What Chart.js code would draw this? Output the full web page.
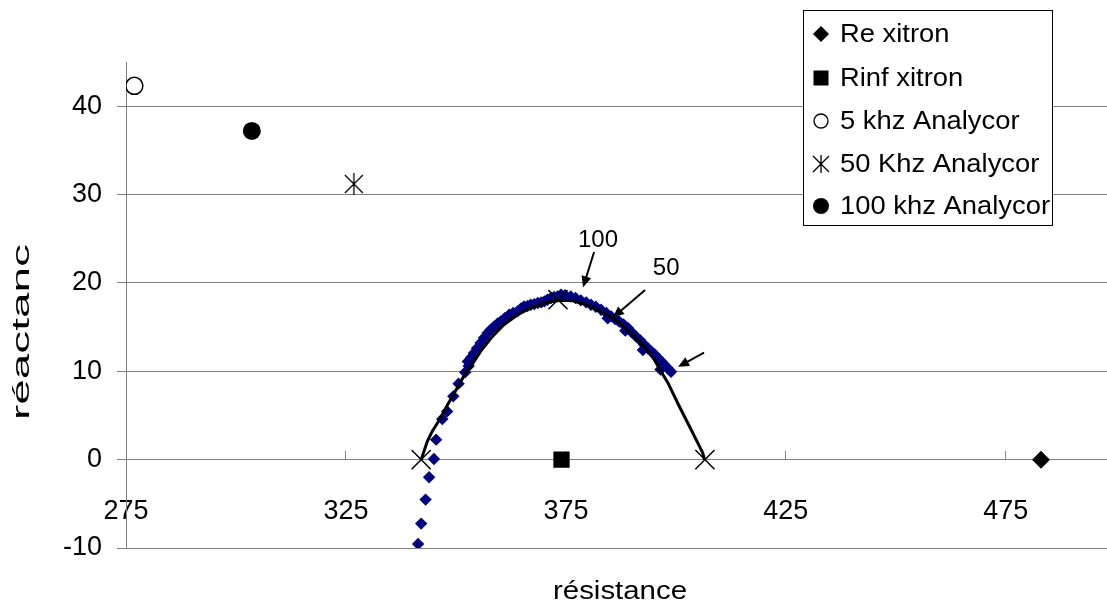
<!DOCTYPE html>
<html><head><meta charset="utf-8">
<script src="https://cdn.jsdelivr.net/npm/chart.js@4/dist/chart.umd.min.js"></script>
<style>html,body{margin:0;padding:0;background:#fff}#wrap{width:1107px;height:601px}</style>
</head><body><div id="wrap"><canvas id="c" width="1107" height="601"></canvas></div>
<script>
// ---- data ----
const xTicks = [275, 325, 375, 425, 475];
const yTicks = [-10, 0, 10, 20, 30, 40];

const reXitronX = [483];      const reXitronY = [0];
const rinfXitronX = [374];    const rinfXitronY = [0];
const khz5X = [276.9];        const khz5Y = [42.3];
const khz50X = [326.8];       const khz50Y = [31.2];
const khz100X = [303.6];      const khz100Y = [37.2];
const crossX = [342.1, 373.2, 406.6];
const crossY = [0, 18.1, 0];

const measX = [341.4,342.1,343.1,343.9,345.0,345.5,346.9,348.0,349.4,350.6,352.1,352.7,354.1,355.6,357.2,358.7,360.2,362.1,364.0,365.5,367.0,368.6,370.1,371.6,373.1,373.9,376.1,378.4,380.7,383.0,385.3,387.1,389.1,390.9,392.8,394.4,395.9,397.4,398.9,
  352.9,353.5,354.8,356.4,357.9,359.5,361.1,363.0,364.8,366.3,367.8,369.4,370.8,372.3,374.8,377.2,379.6,381.8,384.2,386.2,388.1,390.0,391.9,393.6,395.2,396.7,398.2,384.5,388.5,392.5,396.5];
const measY = [-9.54,-7.24,-4.52,-2.0,0.08,2.26,4.6,5.46,7.16,8.6,9.88,11.12,12.07,13.2,14.33,15.08,15.64,16.4,16.78,17.34,17.53,17.72,17.91,18.29,18.47,18.67,18.47,18.02,17.53,16.97,16.21,15.64,14.9,13.95,13.0,12.25,11.5,10.75,9.95,
  10.6,11.6,12.6,13.8,14.7,15.4,16.0,16.6,17.1,17.4,17.6,17.8,18.1,18.4,18.6,18.3,17.8,17.3,16.6,15.9,15.3,14.4,13.5,12.6,11.9,11.1,10.3,16.0,14.6,12.4,10.2];

const curveX = [342.1,343.5,344.6,345.8,346.9,348.1,349.2,350.7,352.2,353.4,355.6,358.3,360.9,364.0,367.0,370.1,373.1,376.1,379.9,383.7,386.8,389.8,392.8,395.1,396.6,398.2,400.4,402.7,404.6,406.1,406.5];
const curveY = [0.0,2.07,3.2,4.15,5.09,6.22,7.16,8.48,9.81,10.55,12.25,13.95,15.27,16.4,17.16,17.73,18.02,18.02,17.53,16.59,15.64,14.33,12.82,11.31,9.99,8.68,6.41,4.15,2.26,0.76,0.0];

const legendLabels = ['Re xitron', 'Rinf xitron', '5 khz Analycor', '50 Khz Analycor', '100 khz Analycor'];
const xTitle = 'résistance';
const yTitle = 'réactanc';
// annotations: [label, textX, textY, arrowFromX, arrowFromY, arrowToX, arrowToY]
const notes = [
  ['100', 382.3, 24.8, 381.4, 23.5, 378.9, 19.5],
  ['50', 397.8, 21.7, 393.0, 19.2, 385.7, 16.1],
  ['', 0, 0, 406.4, 12.1, 400.5, 10.5]
];

const pts = (xs, ys) => xs.map((x, i) => ({x, y: ys[i]}));
const FONT = "'Liberation Sans', Arial, sans-serif";

const asterisk = (() => {
  const c = document.createElement('canvas'); c.width = 22; c.height = 22;
  const g = c.getContext('2d'); g.strokeStyle = '#000'; g.lineWidth = 1.3;
  g.beginPath(); g.moveTo(2,2); g.lineTo(20,20); g.moveTo(20,2); g.lineTo(2,20);
  g.moveTo(11,0); g.lineTo(11,22); g.stroke(); return c;
})();

function stretchText(ctx, text, cx, cy, targetW, rot, align) {
  ctx.save();
  ctx.translate(cx, cy);
  if (rot) ctx.rotate(rot);
  const w = ctx.measureText(text).width;
  const s = targetW ? targetW / w : 1;
  ctx.scale(s, 1);
  ctx.textAlign = align || 'center'; ctx.textBaseline = 'middle';
  ctx.fillText(text, 0, 0);
  ctx.restore();
}

const extras = {
  id: 'extras',
  beforeDraw(chart) {
    const ctx = chart.ctx; ctx.save(); ctx.fillStyle = '#fff';
    ctx.fillRect(0, 0, chart.width, chart.height); ctx.restore();
  },
  afterDraw(chart) {
    const ctx = chart.ctx, xs = chart.scales.x, ys = chart.scales.y;
    ctx.save();
    ctx.fillStyle = '#000'; ctx.strokeStyle = '#000';
    // axis titles
    ctx.font = '26px ' + FONT;
    stretchText(ctx, xTitle, 620, 592, 134, 0);
    ctx.font = '24px ' + FONT;
    stretchText(ctx, yTitle, 22, 332, 176, -Math.PI / 2);
    // annotations
    ctx.font = '24px ' + FONT;
    notes.forEach(n => {
      if (n[0]) stretchText(ctx, n[0], xs.getPixelForValue(n[1]), ys.getPixelForValue(n[2]), 0, 0);
      const x1 = xs.getPixelForValue(n[3]), y1 = ys.getPixelForValue(n[4]);
      const x2 = xs.getPixelForValue(n[5]), y2 = ys.getPixelForValue(n[6]);
      const a = Math.atan2(y2 - y1, x2 - x1), L = 11, W = 5;
      ctx.lineWidth = 2;
      ctx.beginPath(); ctx.moveTo(x1, y1);
      ctx.lineTo(x2 - Math.cos(a) * L * 0.8, y2 - Math.sin(a) * L * 0.8); ctx.stroke();
      ctx.beginPath(); ctx.moveTo(x2, y2);
      ctx.lineTo(x2 - Math.cos(a) * L - Math.sin(a) * W, y2 - Math.sin(a) * L + Math.cos(a) * W);
      ctx.lineTo(x2 - Math.cos(a) * L + Math.sin(a) * W, y2 - Math.sin(a) * L - Math.cos(a) * W);
      ctx.closePath(); ctx.fill();
    });
    // legend
    const bx = 803.5, by = 10.5, bw = 249, bh = 215;
    ctx.fillStyle = '#fff'; ctx.fillRect(bx, by, bw, bh);
    ctx.strokeStyle = '#000'; ctx.lineWidth = 1; ctx.strokeRect(bx, by, bw, bh);
    ctx.fillStyle = '#000';
    ctx.font = '26px ' + FONT;
    const rows = [34, 78, 121, 164, 206], mx = 821;
    const s = 210 / ctx.measureText(legendLabels[4]).width;
    legendLabels.forEach((t, i) => {
      const y = rows[i];
      ctx.save(); ctx.translate(840, y); ctx.scale(s, 1);
      ctx.textAlign = 'left'; ctx.textBaseline = 'middle'; ctx.fillText(t, 0, 1); ctx.restore();
      ctx.beginPath();
      if (i === 0) { ctx.moveTo(mx, y - 8); ctx.lineTo(mx + 8, y); ctx.lineTo(mx, y + 8); ctx.lineTo(mx - 8, y); ctx.closePath(); ctx.fill(); }
      if (i === 1) { ctx.fillRect(mx - 7.5, y - 7.5, 15, 15); }
      if (i === 2) { ctx.lineWidth = 1.3; ctx.arc(mx, y, 7, 0, Math.PI * 2); ctx.stroke(); }
      if (i === 3) { ctx.lineWidth = 1.3; ctx.moveTo(mx - 8, y - 8); ctx.lineTo(mx + 8, y + 8); ctx.moveTo(mx + 8, y - 8); ctx.lineTo(mx - 8, y + 8); ctx.moveTo(mx, y - 9); ctx.lineTo(mx, y + 9); ctx.stroke(); }
      if (i === 4) { ctx.arc(mx, y, 8, 0, Math.PI * 2); ctx.fill(); }
    });
    ctx.restore();
  }
};

new Chart(document.getElementById('c'), {
  type: 'scatter',
  data: {
    datasets: [
      { label: 'xfit', data: pts(crossX, crossY), pointStyle: 'crossRot', pointRadius: 13.5, borderColor: '#000', borderWidth: 1.5, order: 0 },
      { label: 'Re xitron', data: pts(reXitronX, reXitronY), pointStyle: 'rectRot', pointRadius: 9, backgroundColor: '#000', borderColor: '#000', borderWidth: 0, order: 0 },
      { label: 'Rinf xitron', data: pts(rinfXitronX, rinfXitronY), pointStyle: 'rect', pointRadius: 11.5, backgroundColor: '#000', borderColor: '#000', borderWidth: 0, order: 0 },
      { label: '5 khz Analycor', data: pts(khz5X, khz5Y), pointStyle: 'circle', pointRadius: 8.5, backgroundColor: '#fff', borderColor: '#000', borderWidth: 1.5, order: 0 },
      { label: '50 Khz Analycor', data: pts(khz50X, khz50Y), pointStyle: asterisk, pointRadius: 11, order: 0 },
      { label: '100 khz Analycor', data: pts(khz100X, khz100Y), pointStyle: 'circle', pointRadius: 9, backgroundColor: '#000', borderColor: '#000', borderWidth: 0, order: 0 },
      { label: 'curve', data: pts(curveX, curveY), showLine: true, pointRadius: 0, borderColor: '#000', borderWidth: 3, tension: 0, order: 1 },
      { label: 'measured', data: pts(measX, measY), pointStyle: 'rectRot', pointRadius: 6.2, backgroundColor: '#000080', borderColor: '#000080', borderWidth: 0, order: 2 }
    ]
  },
  options: {
    responsive: false, animation: false, devicePixelRatio: 1,
    layout: { autoPadding: false, padding: { top: 62, right: 0, bottom: 53, left: 0 } },
    plugins: { legend: { display: false }, tooltip: { enabled: false } },
    elements: { point: { hoverRadius: 0 } },
    scales: {
      x: {
        type: 'linear', min: 275, max: 498, position: { y: 0 },
        afterBuildTicks: s => { s.ticks = xTicks.map(v => ({ value: v })); },
        afterFit: s => { s.paddingLeft = 0; s.paddingRight = 0; },
        grid: { display: true, drawOnChartArea: false, drawTicks: true, tickLength: -9, color: '#808080' },
        border: { display: true, color: '#808080', width: 1 },
        ticks: { font: { family: FONT, size: 27 }, color: '#000', padding: 45, maxRotation: 0, autoSkip: false }
      },
      y: {
        type: 'linear', min: -10, max: 45,
        afterBuildTicks: s => { s.ticks = yTicks.map(v => ({ value: v })); },
        afterFit: s => { s.width = 126; },
        grid: { color: '#808080', tickLength: 9, drawTicks: true },
        border: { display: true, color: '#808080', width: 1 },
        ticks: { font: { family: FONT, size: 27 }, color: '#000', padding: 15 }
      }
    }
  },
  plugins: [extras]
});
</script></body></html>
